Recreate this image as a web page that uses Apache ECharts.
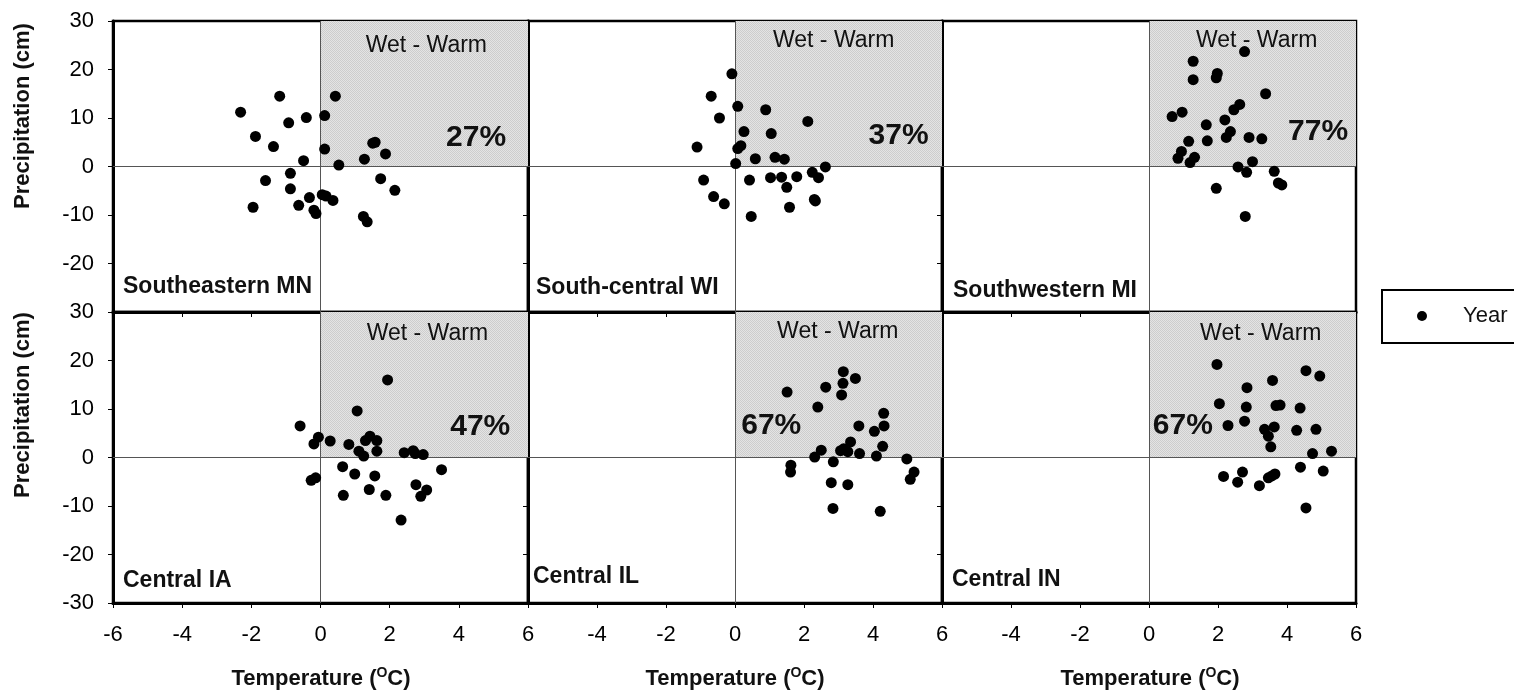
<!DOCTYPE html>
<html>
<head>
<meta charset="utf-8">
<script src="https://cdn.jsdelivr.net/npm/echarts@6/dist/echarts.min.js"></script>
<style>
  html, body { margin: 0; padding: 0; background: #fff; }
  #chart { width: 1514px; height: 697px; }
</style>
</head>
<body>
<div id="chart"></div>
<script>
// Region names, in panel order (top row left to right, then bottom row)
const regions = ['Southeastern MN', 'South-central WI', 'Southwestern MI',
                 'Central IA', 'Central IL', 'Central IN'];

// Yearly anomalies per region: [temperature (°C), precipitation (cm)]
const southeasternMN = [
  [-1.18, 14.5], [0.43, 14.5], [-2.31, 11.2], [-0.41, 10.1], [0.12, 10.5], [-0.92, 9.0],
  [-1.88, 6.2], [-1.36, 4.1], [0.12, 3.6], [1.51, 4.8], [1.58, 5.0], [1.88, 2.6],
  [1.27, 1.5], [-0.49, 1.2], [0.53, 0.3], [-0.87, -1.4], [-1.59, -2.9], [-0.87, -4.6],
  [1.74, -2.5], [2.15, -4.9], [-0.32, -6.4], [0.16, -6.1], [0.05, -5.8], [0.36, -7.0],
  [-0.63, -8.0], [-1.95, -8.4], [-0.19, -9.0], [-0.13, -9.7], [1.24, -10.3], [1.35, -11.4]
];
const southCentralWI = [
  [-0.09, 19.1], [-0.69, 14.5], [0.08, 12.4], [0.89, 11.7], [-0.45, 10.0], [2.11, 9.3],
  [0.26, 7.2], [1.05, 6.8], [-1.10, 4.0], [0.17, 4.3], [0.08, 3.7], [0.59, 1.6],
  [1.16, 1.9], [1.43, 1.5], [0.02, 0.6], [2.62, -0.1], [-0.91, -2.8], [0.42, -2.8],
  [1.03, -2.3], [1.35, -2.2], [1.79, -2.1], [2.24, -1.2], [2.42, -2.3], [1.50, -4.3],
  [-0.62, -6.2], [-0.31, -7.7], [2.30, -6.8], [2.33, -7.1], [1.58, -8.4], [0.47, -10.3]
];
const southwesternMI = [
  [2.77, 23.7], [1.28, 21.7], [1.28, 17.9], [1.98, 19.2], [1.95, 18.3], [3.38, 15.0],
  [2.63, 12.8], [2.46, 11.7], [0.96, 11.2], [0.67, 10.3], [2.20, 9.6], [1.66, 8.6],
  [2.36, 7.2], [2.24, 6.0], [2.90, 6.0], [3.27, 5.7], [1.15, 5.2], [1.69, 5.3],
  [0.94, 3.1], [0.84, 1.7], [1.32, 1.9], [1.19, 0.8], [3.00, 1.0], [2.58, -0.1],
  [2.83, -1.2], [3.63, -1.0], [3.75, -3.4], [3.85, -3.8], [1.95, -4.5], [2.79, -10.3]
];
const centralIA = [
  [1.94, 16.0], [1.06, 9.6], [-0.59, 6.5], [-0.06, 4.2], [-0.19, 2.8], [0.28, 3.4],
  [0.82, 2.7], [1.43, 4.4], [1.30, 3.5], [1.63, 3.5], [1.11, 1.3], [1.25, 0.3],
  [1.63, 1.3], [2.42, 1.0], [2.68, 1.4], [2.74, 0.8], [2.97, 0.6], [0.64, -1.9],
  [0.99, -3.4], [1.57, -3.8], [3.50, -2.5], [-0.27, -4.7], [-0.14, -4.2], [2.76, -5.6],
  [1.41, -6.6], [3.07, -6.7], [2.90, -8.0], [0.66, -7.8], [1.89, -7.8], [2.33, -12.9]
];
const centralIL = [
  [3.14, 17.7], [3.49, 16.3], [3.13, 15.3], [1.51, 13.5], [2.63, 14.5], [3.09, 12.9],
  [2.40, 10.4], [4.31, 9.1], [3.59, 6.5], [4.32, 6.5], [4.04, 5.4], [3.35, 3.2],
  [4.28, 2.3], [2.50, 1.5], [3.06, 1.4], [3.27, 1.2], [3.15, 1.8], [3.61, 0.8],
  [4.10, 0.3], [2.31, 0.1], [4.98, -0.3], [2.85, -0.9], [1.62, -1.6], [1.61, -3.0],
  [5.19, -3.0], [5.08, -4.5], [2.79, -5.2], [3.27, -5.6], [2.84, -10.5], [4.21, -11.1]
];
const centralIN = [
  [1.97, 19.2], [4.55, 17.9], [4.95, 16.8], [3.58, 15.9], [2.84, 14.4], [2.04, 11.1],
  [2.82, 10.4], [3.68, 10.7], [3.80, 10.8], [4.38, 10.2], [2.77, 7.5], [2.29, 6.6],
  [3.35, 5.8], [3.63, 6.3], [4.28, 5.6], [4.84, 5.8], [3.46, 4.4], [3.53, 2.2],
  [5.29, 1.3], [4.74, 0.8], [4.39, -2.0], [5.05, -2.8], [2.71, -3.0], [2.16, -3.9],
  [3.65, -3.4], [3.56, -3.8], [3.46, -4.2], [2.57, -5.1], [3.20, -5.8], [4.55, -10.4]
];
const panelData = [southeasternMN, southCentralWI, southwesternMI, centralIA, centralIL, centralIN];

// Axis ranges and tick steps
const X_MIN = -6, X_MAX = 6, X_STEP = 2;
const Y_MIN = -30, Y_MAX = 30, Y_STEP = 10;
const quadrantLabel = 'Wet - Warm';
const seriesName = 'Year';

// ---- layout & style ----
const fontFamily = 'Arial, "Liberation Sans", sans-serif';
const colLeft = [113, 528, 942];
const colWidth = [415, 414, 414];
const rowTop = [21, 312];
const rowHeight = 291;
// annotation anchors in data units, per panel
const quadrantTextAt = [[3.06, 25.0], [2.86, 26.0], [3.12, 26.0], [3.09, 25.5], [2.98, 25.9], [3.24, 25.5]];
const percentTextAt = [[4.5, 5.9], [4.74, 6.3], [4.9, 7.1], [4.62, 6.3], [1.05, 6.5], [0.98, 6.5]];
// region name anchors (left x, middle y) in pixels
const regionTextAt = [[123, 287], [536, 288], [953, 291], [123, 581], [533, 577], [952, 580]];

// fine stipple used for the wet-warm quadrant
function stipple() {
  const c = document.createElement('canvas');
  c.width = 2; c.height = 2;
  const g = c.getContext('2d');
  g.fillStyle = '#e4e4e4'; g.fillRect(0, 0, 2, 2);
  g.fillStyle = '#cdcdcd'; g.fillRect(0, 0, 1, 1); g.fillRect(1, 1, 1, 1);
  return c;
}
const shade = { image: stipple(), repeat: 'repeat' };

function wetWarmShare(pts) {
  const n = pts.filter(p => p[0] > 0 && p[1] > 0).length;
  return Math.round(100 * n / pts.length) + '%';
}

const grids = [], xAxes = [], yAxes = [], series = [], graphics = [];

panelData.forEach((pts, i) => {
  const row = Math.floor(i / 3), col = i % 3;
  grids.push({
    left: colLeft[col], top: rowTop[row], width: colWidth[col], height: rowHeight,
    show: true, borderColor: '#000', borderWidth: 2.5, backgroundColor: 'transparent'
  });
  xAxes.push({
    type: 'value', gridIndex: i, min: X_MIN, max: X_MAX, interval: X_STEP,
    axisLine: { show: true, onZero: false, lineStyle: { color: '#000', width: 3 } },
    axisTick: { show: true, length: 5, lineStyle: { color: '#000', width: 1 } },
    splitLine: { show: false },
    axisLabel: {
      show: row === 1, showMinLabel: col === 0, showMaxLabel: true,
      color: '#000', fontSize: 22, fontFamily: fontFamily, margin: 21
    }
  });
  yAxes.push({
    type: 'value', gridIndex: i, min: Y_MIN, max: Y_MAX, interval: Y_STEP,
    axisLine: { show: true, onZero: false, lineStyle: { color: '#000', width: 3 } },
    axisTick: { show: true, length: 5, lineStyle: { color: '#000', width: 1 } },
    splitLine: { show: false },
    axisLabel: {
      show: col === 0, showMinLabel: row === 1, showMaxLabel: true,
      color: '#000', fontSize: 22, fontFamily: fontFamily, margin: 19
    }
  });
  series.push({
    name: seriesName, type: 'scatter', xAxisIndex: i, yAxisIndex: i,
    data: pts, symbol: 'circle', symbolSize: 11,
    itemStyle: { color: '#000', opacity: 1 },
    z: 5,
    markArea: {
      silent: true,
      itemStyle: { color: shade },
      data: [[{ coord: [0, 0] }, { coord: [X_MAX, Y_MAX] }]]
    },
    markLine: {
      silent: true, symbol: 'none', animation: false,
      label: { show: false },
      lineStyle: { color: '#555', width: 1, type: 'solid' },
      data: [{ xAxis: 0 }, { yAxis: 0 }]
    },
    markPoint: {
      silent: true, symbol: 'circle', symbolSize: 1,
      itemStyle: { color: 'rgba(0,0,0,0)' },
      data: [
        {
          coord: quadrantTextAt[i],
          label: { show: true, position: 'inside', formatter: quadrantLabel, color: '#111',
                   fontSize: 23, fontFamily: fontFamily, textBorderWidth: 0 }
        },
        {
          coord: percentTextAt[i],
          label: { show: true, position: 'inside', formatter: wetWarmShare(pts), color: '#111',
                   fontSize: 30, fontWeight: 'bold', fontFamily: fontFamily, textBorderWidth: 0 }
        }
      ]
    }
  });
  graphics.push({
    type: 'text', x: regionTextAt[i][0], y: regionTextAt[i][1], z: 10,
    style: { text: regions[i], fill: '#111', font: 'bold 23px ' + fontFamily,
             align: 'left', verticalAlign: 'middle' }
  });
});

// axis titles
[321, 735, 1150].forEach(cx => {
  graphics.push({
    type: 'text', x: cx, y: 679, z: 10,
    style: {
      text: '{a|Temperature (}{s|O}{a|C)}',
      align: 'center', verticalAlign: 'middle',
      rich: {
        a: { fontSize: 22, fontWeight: 'bold', fontFamily: fontFamily, fill: '#111', lineHeight: 26 },
        s: { fontSize: 14, fontWeight: 'bold', fontFamily: fontFamily, fill: '#111', verticalAlign: 'top', lineHeight: 26 }
      }
    }
  });
});
[116, 405].forEach(cy => {
  graphics.push({
    type: 'text', x: 23, y: cy, rotation: Math.PI / 2, z: 10,
    style: { text: 'Precipitation (cm)', fill: '#111', font: 'bold 22px ' + fontFamily,
             align: 'center', verticalAlign: 'middle' }
  });
});

const chart = echarts.init(document.getElementById('chart'), null, { renderer: 'canvas' });
chart.setOption({
  animation: false,
  backgroundColor: '#fff',
  grid: grids,
  xAxis: xAxes,
  yAxis: yAxes,
  series: series,
  legend: {
    data: [seriesName],
    left: 1382, top: 290,
    orient: 'vertical',
    padding: [15, 120, 16, 35],
    borderColor: '#000', borderWidth: 2,
    icon: 'circle', itemWidth: 10, itemHeight: 10,
    selectedMode: false,
    itemStyle: { opacity: 1 },
    textStyle: { color: '#111', fontSize: 22, fontFamily: fontFamily, padding: [0, 0, 0, 31] }
  },
  graphic: graphics
});
</script>
</body>
</html>
